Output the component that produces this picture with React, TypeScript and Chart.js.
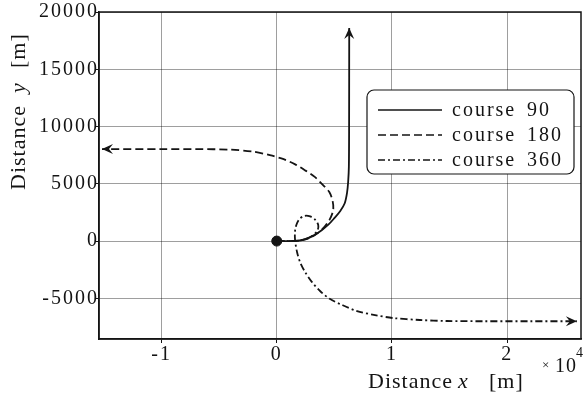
import React, { useEffect, useRef } from 'react';
import { Chart, registerables } from 'chart.js';

Chart.register(...registerables);

// ---- data (metres) ----
const course90X = [0, 1000, 2000, 2700, 3300, 3900, 4500, 5000, 5500, 5900, 6100, 6200, 6260, 6280, 6290];
const course90Y = [0, 0, 50, 250, 550, 950, 1450, 2000, 2600, 3300, 4200, 5200, 6500, 10000, 18600];

const course180X = [0, 1000, 2000, 2800, 3500, 4100, 4600, 4900, 4850, 4550, 4000, 3300, 2500, 1600, 600, -600, -2000, -4000, -7000, -10000, -15170];
const course180Y = [0, 0, 50, 250, 650, 1200, 1900, 2700, 3500, 4300, 4900, 5600, 6150, 6700, 7150, 7500, 7800, 7980, 8030, 8030, 8030];

const course360X = [0, 1000, 2000, 2700, 3200, 3550, 3600, 3350, 2900, 2400, 1950, 1700, 1580, 1590, 1760, 2020, 2460, 3060, 3760, 4630, 5670, 6970, 8530, 10090, 12430, 14780, 18000, 22000, 26050];
const course360Y = [0, 0, 50, 250, 550, 950, 1400, 1850, 2150, 2200, 1900, 1400, 800, 90, -960, -1830, -2700, -3580, -4360, -5060, -5580, -6110, -6460, -6720, -6890, -6980, -7000, -7000, -7000];

const startX = [0];
const startY = [0];

const seriesNames = ['course', 'course', 'course'];
const seriesCourses = ['90', '180', '360'];
const seriesLabels = seriesNames.map((n, i) => `${n} ${seriesCourses[i]}`);
const xTicks = [-10000, 0, 10000, 20000];
const yTicks = [-5000, 0, 5000, 10000, 15000, 20000];
const xMin = -15430;
const xMax = 26410;
const yMin = -8550;
const yMax = 20000;

const FONT = "'Liberation Serif', 'Times New Roman', serif";
const INK = '#141414';
const dashes: number[][] = [[], [8, 4], [7, 3, 2, 3]];

const zip = (xs: number[], ys: number[]) => xs.map((x, i) => ({ x, y: ys[i] }));

const decor = {
  id: 'decor',
  beforeDraw(chart: any) {
    chart.ctx.letterSpacing = '2px';
  },
  afterDatasetsDraw(chart: any) {
    const ctx = chart.ctx as CanvasRenderingContext2D;
    const a = chart.chartArea;
    ctx.save();
    // frame
    ctx.setLineDash([]);
    ctx.strokeStyle = INK;
    ctx.lineWidth = 1.5;
    ctx.strokeRect(a.left, a.top, a.right - a.left, a.bottom - a.top);
    // arrowheads
    ctx.fillStyle = INK;
    for (let i = 0; i < 3; i++) {
      const pts = chart.getDatasetMeta(i).data;
      const p = pts[pts.length - 1];
      const q = pts[pts.length - 2];
      const ang = Math.atan2(p.y - q.y, p.x - q.x);
      const c = Math.cos(ang), s = Math.sin(ang);
      const L = 11, W = 5, N = 7;
      ctx.beginPath();
      ctx.moveTo(p.x, p.y);
      ctx.lineTo(p.x - L * c - W * s, p.y - L * s + W * c);
      ctx.lineTo(p.x - N * c, p.y - N * s);
      ctx.lineTo(p.x - L * c + W * s, p.y - L * s - W * c);
      ctx.closePath();
      ctx.fill();
    }
    // legend
    const bx = 367, by = 90, bw = 207, bh = 84, r = 7;
    ctx.beginPath();
    ctx.roundRect(bx, by, bw, bh, r);
    ctx.fillStyle = '#ffffff';
    ctx.fill();
    ctx.lineWidth = 1.2;
    ctx.strokeStyle = INK;
    ctx.stroke();
    const rows = [110, 135, 160];
    ctx.font = `20px ${FONT}`;
    (ctx as any).letterSpacing = '2px';
    ctx.textBaseline = 'middle';
    ctx.textAlign = 'left';
    ctx.fillStyle = INK;
    rows.forEach((yy, i) => {
      ctx.beginPath();
      ctx.setLineDash(dashes[i]);
      ctx.lineWidth = 1.7;
      ctx.moveTo(378, yy);
      ctx.lineTo(442, yy);
      ctx.stroke();
      ctx.setLineDash([]);
      ctx.fillText(seriesNames[i], 452, yy + 1);
      ctx.fillText(seriesCourses[i], 527, yy + 1);
    });
    ctx.restore();
  },
  afterDraw(chart: any) {
    const ctx = chart.ctx as CanvasRenderingContext2D;
    ctx.save();
    ctx.fillStyle = INK;
    ctx.textBaseline = 'alphabetic';
    ctx.textAlign = 'left';
    (ctx as any).letterSpacing = '1px';
    // x title
    ctx.font = `22px ${FONT}`;
    ctx.fillText('Distance', 368, 388);
    ctx.font = `italic 22px ${FONT}`;
    ctx.fillText('x', 458, 388);
    ctx.font = `22px ${FONT}`;
    ctx.fillText('[m]', 489, 388);
    // y title
    ctx.save();
    ctx.translate(25, 190);
    ctx.rotate(-Math.PI / 2);
    ctx.font = `22px ${FONT}`;
    ctx.fillText('Distance', 0, 0);
    ctx.font = `italic 22px ${FONT}`;
    ctx.fillText('y', 97, 0);
    ctx.font = `22px ${FONT}`;
    ctx.fillText('[m]', 122, 0);
    ctx.restore();
    // exponent
    ctx.font = `13px ${FONT}`;
    (ctx as any).letterSpacing = '0px';
    ctx.fillText('×', 542, 369);
    ctx.font = `20px ${FONT}`;
    (ctx as any).letterSpacing = '1px';
    ctx.fillText('10', 555, 372);
    ctx.font = `14px ${FONT}`;
    ctx.fillText('4', 576, 357);
    ctx.restore();
  },
};

export default function App() {
  const ref = useRef<HTMLCanvasElement>(null);
  useEffect(() => {
    if (!ref.current) return;
    Chart.defaults.font.family = FONT;
    Chart.defaults.color = INK;
    const lineDs = (xs: number[], ys: number[], dash: number[]) => ({
      data: zip(xs, ys),
      showLine: true,
      borderColor: INK,
      backgroundColor: INK,
      borderWidth: 1.8,
      borderDash: dash,
      pointRadius: 0,
      tension: 0.3,
      fill: false,
    });
    const chart = new Chart(ref.current, {
      type: 'scatter',
      data: {
        datasets: [
          { label: seriesLabels[0], ...lineDs(course90X, course90Y, dashes[0]) },
          { label: seriesLabels[1], ...lineDs(course180X, course180Y, dashes[1]) },
          { label: seriesLabels[2], ...lineDs(course360X, course360Y, dashes[2]) },
          {
            label: 'start',
            data: zip(startX, startY),
            showLine: false,
            pointRadius: 5,
            backgroundColor: INK,
            borderColor: INK,
          },
        ],
      } as any,
      options: {
        responsive: false,
        animation: false,
        devicePixelRatio: 1,
        layout: { padding: { top: 12, right: 6, left: 0, bottom: 0 } },
        plugins: { legend: { display: false }, tooltip: { enabled: false }, title: { display: false } },
        scales: {
          x: {
            type: 'linear',
            min: xMin,
            max: xMax,
            afterBuildTicks: (s: any) => { s.ticks = xTicks.map((v) => ({ value: v })); },
            afterFit: (s: any) => { s.height = 62; },
            ticks: {
              callback: (v: any) => String(Number(v) / 10000),
              font: { size: 20, family: FONT },
              color: INK,
              padding: 0,
              maxRotation: 0,
            },
            grid: { color: 'rgba(0,0,0,0.38)', lineWidth: 1, tickLength: 4, tickColor: INK },
            border: { display: true, color: INK, width: 1.5 },
          },
          y: {
            type: 'linear',
            min: yMin,
            max: yMax,
            afterBuildTicks: (s: any) => { s.ticks = yTicks.map((v) => ({ value: v })); },
            afterFit: (s: any) => { s.width = 99; },
            ticks: {
              callback: (v: any) => String(v),
              font: { size: 20, family: FONT },
              color: INK,
              padding: -3,
            },
            grid: { color: 'rgba(0,0,0,0.38)', lineWidth: 1, tickLength: 3, tickColor: INK },
            border: { display: true, color: INK, width: 1.5 },
          },
        },
      } as any,
      plugins: [decor as any],
    });
    return () => chart.destroy();
  }, []);
  return (
    <div style={{ position: 'fixed', left: 0, top: 0, width: 587, height: 401, background: '#fff' }}>
      <canvas ref={ref} width={587} height={401} style={{ display: 'block', width: 587, height: 401 }} />
    </div>
  );
}
